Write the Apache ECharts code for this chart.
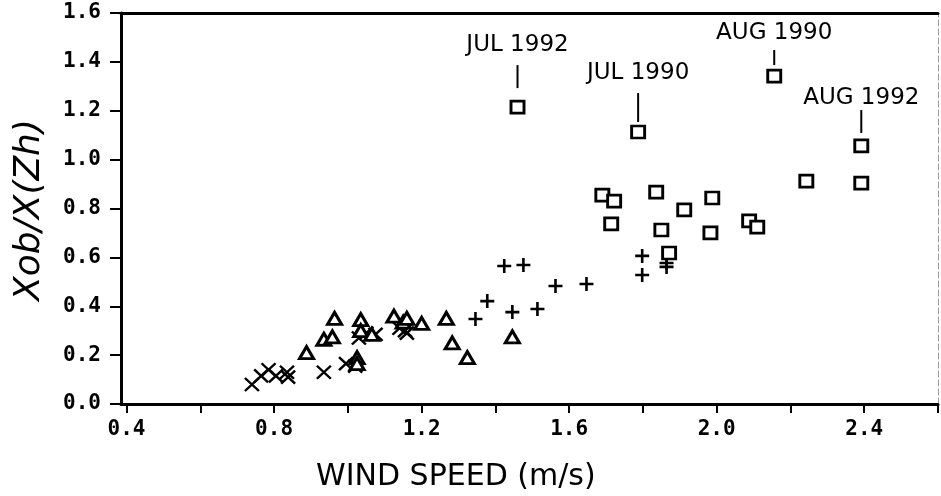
<!DOCTYPE html>
<html>
<head>
<meta charset="utf-8">
<script src="https://cdn.jsdelivr.net/npm/echarts@6/dist/echarts.min.js"></script>
<style>
  html, body { margin: 0; padding: 0; background: #fff; }
  #chart { width: 941px; height: 496px; }
</style>
</head>
<body>
<div id="chart"></div>
<script>
// Ratio of observed to modelled value against wind speed, by month group.
const crossPoints = [
  [0.74, 0.08], [0.765, 0.115], [0.785, 0.14], [0.805, 0.115], [0.835, 0.13],
  [0.838, 0.11], [0.935, 0.13], [0.995, 0.165], [1.02, 0.155], [1.03, 0.27],
  [1.05, 0.29], [1.075, 0.285], [1.14, 0.31], [1.155, 0.3], [1.16, 0.29]
];
const trianglePoints = [
  [0.888, 0.21], [0.935, 0.265], [0.958, 0.275], [0.964, 0.35], [1.025, 0.19],
  [1.025, 0.165], [1.035, 0.345], [1.035, 0.3], [1.065, 0.285], [1.125, 0.36],
  [1.15, 0.335], [1.16, 0.35], [1.2, 0.33], [1.267, 0.35], [1.283, 0.25],
  [1.324, 0.19], [1.446, 0.275]
];
const plusPoints = [
  [1.346, 0.348], [1.378, 0.421], [1.424, 0.565], [1.446, 0.376], [1.476, 0.569],
  [1.514, 0.389], [1.563, 0.483], [1.647, 0.491], [1.798, 0.606], [1.798, 0.528],
  [1.864, 0.577], [1.864, 0.561]
];
const squarePoints = [
  [1.69, 0.855], [1.722, 0.83], [1.714, 0.737], [1.836, 0.867], [1.85, 0.712],
  [1.871, 0.618], [1.912, 0.794], [1.988, 0.843], [1.983, 0.70], [2.088, 0.749],
  [2.11, 0.724], [2.243, 0.912], [2.392, 0.904],
  [1.46, 1.215], [1.787, 1.113], [2.156, 1.342], [2.392, 1.056]
];
// Outlying months that get a callout
const calloutNames = ['JUL 1992', 'JUL 1990', 'AUG 1990', 'AUG 1992'];
const calloutPoints = [[1.46, 1.215], [1.787, 1.113], [2.156, 1.342], [2.392, 1.056]];

const xTickValues = [0.4, 0.6, 0.8, 1.0, 1.2, 1.4, 1.6, 1.8, 2.0, 2.2, 2.4, 2.6];
const xLabelValues = [0.4, 0.8, 1.2, 1.6, 2.0, 2.4];

// Callout geometry (pixels above the marker): text centre, leader line start/end
const calloutLayout = [
  { text: 62, from: 42, to: 19 },
  { text: 59, from: 39, to: 10 },
  { text: 43, from: 26, to: 11 },
  { text: 48, from: 36, to: 13 }
];

const tickFont = { fontFamily: 'DejaVu Sans Mono', fontWeight: 'bold', fontSize: 21, color: '#000' };
const fmt = v => v.toFixed(1);

const chart = echarts.init(document.getElementById('chart'), null, { renderer: 'canvas' });

const markerBase = {
  type: 'scatter',
  xAxisIndex: 0, yAxisIndex: 0,
  emphasis: { disabled: true },
  silent: true,
  animation: false
};

chart.setOption({
  backgroundColor: '#fff',
  animation: false,
  grid: { left: 121, right: 3, top: 13, bottom: 92, containLabel: false },
  xAxis: [
    {
      type: 'value', min: 0.385, max: 2.6,
      axisLine: { show: true, onZero: false, lineStyle: { color: '#000', width: 3 } },
      axisTick: { show: true, customValues: xTickValues, length: 9, inside: false, lineStyle: { color: '#000', width: 2 } },
      axisLabel: { show: true, customValues: xLabelValues, margin: 15, formatter: fmt, ...tickFont },
      splitLine: { show: false }
    },
    {
      type: 'value', position: 'top', min: 0.385, max: 2.6,
      axisLine: { show: true, onZero: false, lineStyle: { color: '#000', width: 3 } },
      axisTick: { show: false }, axisLabel: { show: false }, splitLine: { show: false }
    }
  ],
  yAxis: [
    {
      type: 'value', min: 0, max: 1.6, interval: 0.2,
      axisLine: { show: true, onZero: false, lineStyle: { color: '#000', width: 3 } },
      axisTick: { show: true, length: 11, lineStyle: { color: '#000', width: 2 } },
      axisLabel: { show: true, margin: 20, formatter: fmt, ...tickFont },
      splitLine: { show: false }
    },
    {
      type: 'value', position: 'right', min: 0, max: 1.6,
      axisLine: { show: true, onZero: false, lineStyle: { color: '#9a9a9a', width: 1, type: [6, 3] } },
      axisTick: { show: false }, axisLabel: { show: false }, splitLine: { show: false }
    }
  ],
  graphic: [
    {
      type: 'text', left: 316, top: 462,
      style: { text: 'WIND SPEED (m/s)', font: '30px "DejaVu Sans"', fill: '#000' }
    },
    {
      type: 'text', x: 30, y: 210, rotation: Math.PI / 2,
      style: {
        text: 'Xob/X(Zh)', font: 'italic 36px "DejaVu Sans"', fill: '#000',
        align: 'center', verticalAlign: 'middle'
      }
    }
  ],
  series: [
    {
      ...markerBase, name: 'cross', data: crossPoints,
      symbol: 'path://M0,0L10,10M10,0L0,10', symbolSize: [14, 13],
      itemStyle: { color: '#000', borderColor: '#000', borderWidth: 2.4, opacity: 1 }
    },
    {
      ...markerBase, name: 'triangle', data: trianglePoints,
      symbol: 'triangle', symbolSize: [14, 12],
      itemStyle: { color: '#fff', borderColor: '#000', borderWidth: 3, opacity: 1 }
    },
    {
      ...markerBase, name: 'plus', data: plusPoints,
      symbol: 'path://M0,5L10,5M5,0L5,10', symbolSize: [14, 14],
      itemStyle: { color: '#000', borderColor: '#000', borderWidth: 2.6, opacity: 1 }
    },
    {
      ...markerBase, name: 'square', data: squarePoints,
      symbol: 'rect', symbolSize: [13, 12],
      itemStyle: { color: '#fff', borderColor: '#000', borderWidth: 2.8, opacity: 1 }
    },
    {
      type: 'custom', name: 'callouts', silent: true, animation: false,
      xAxisIndex: 0, yAxisIndex: 0,
      data: calloutPoints,
      renderItem: function (params, api) {
        const p = api.coord([api.value(0), api.value(1)]);
        const g = calloutLayout[params.dataIndex];
        return {
          type: 'group',
          children: [
            {
              type: 'line',
              shape: { x1: p[0], y1: p[1] - g.from, x2: p[0], y2: p[1] - g.to },
              style: { stroke: '#000', lineWidth: 2 }
            },
            {
              type: 'text', x: p[0], y: p[1] - g.text,
              style: {
                text: calloutNames[params.dataIndex], font: '23px "DejaVu Sans"',
                fill: '#000', align: 'center', verticalAlign: 'middle'
              }
            }
          ]
        };
      },
      z: 5
    }
  ]
});
</script>
</body>
</html>
